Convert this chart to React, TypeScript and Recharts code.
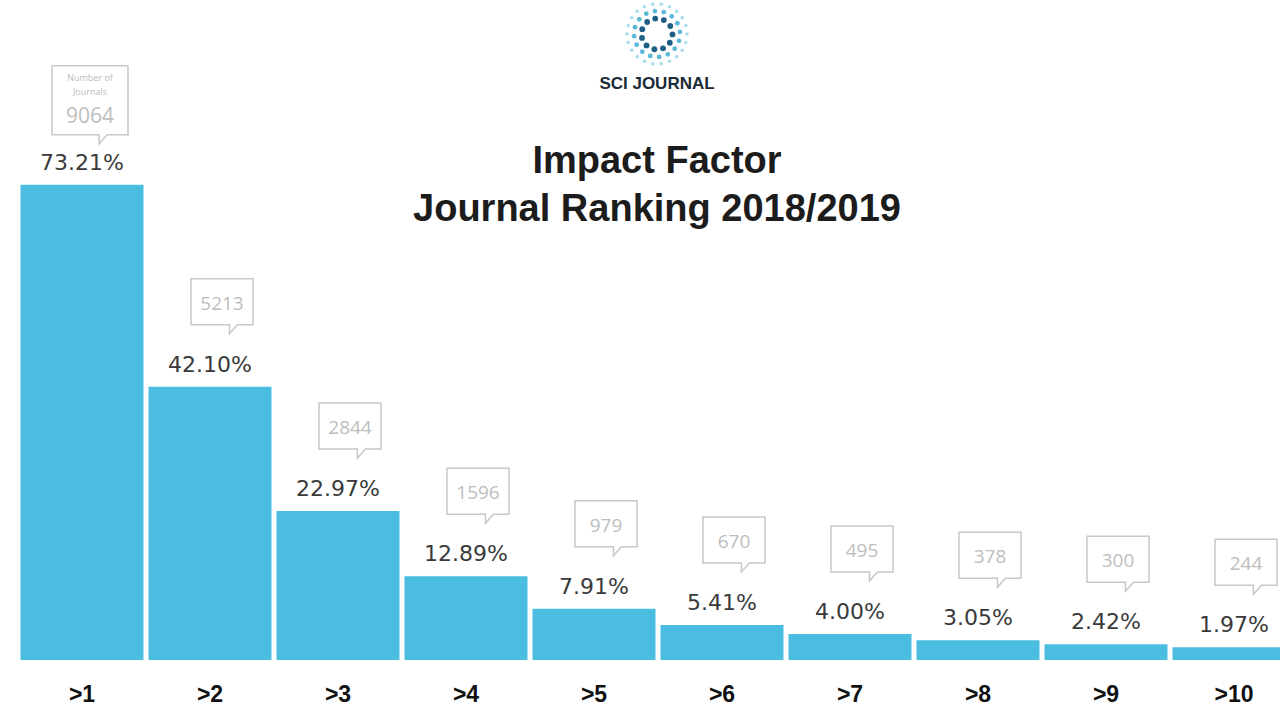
import { BarChart, Bar, XAxis, YAxis, LabelList } from 'recharts';

const categories = ['>1', '>2', '>3', '>4', '>5', '>6', '>7', '>8', '>9', '>10'];
const percentages = [73.21, 42.1, 22.97, 12.89, 7.91, 5.41, 4.0, 3.05, 2.42, 1.97];
const journalCounts = [9064, 5213, 2844, 1596, 979, 670, 495, 378, 300, 244];

const data = categories.map((name, i) => ({
  name,
  pct: percentages[i],
  count: journalCounts[i],
}));

const BAR_COLOR = '#4bbde1';
const BOX_STROKE = '#c8c8c8';
const BOX_TEXT = '#bdbdbd';

// percent label plus the grey "speech bubble" with the journal count
function BarLabel(props: any) {
  const { x, y, width, index } = props;
  const cx = Number(x) + Number(width) / 2;
  const top = Number(y);
  const pct = percentages[index];
  const count = journalCounts[index];
  const first = index === 0;

  const bw = first ? 76 : 62;
  const bh = first ? 69 : 46;
  const bx = cx + (first ? 8 : 12) - bw / 2;
  const by = top - (first ? 50 : 62) - bh;
  const tailX = bx + bw * 0.62;
  const bubble =
    `M${bx},${by} H${bx + bw} V${by + bh} H${tailX + 8} L${tailX},${by + bh + 9} ` +
    `L${tailX},${by + bh} H${bx} Z`;

  return (
    <g>
      <path d={bubble} fill="#fff" stroke={BOX_STROKE} strokeWidth={1.5} />
      {first ? (
        <>
          <text x={bx + bw / 2} y={by + 15} textAnchor="middle" fontSize={9} fill={BOX_TEXT} fontFamily="Open Sans">
            Number of
          </text>
          <text x={bx + bw / 2} y={by + 29} textAnchor="middle" fontSize={9} fill={BOX_TEXT} fontFamily="Open Sans">
            Journals
          </text>
          <text x={bx + bw / 2} y={by + 57} textAnchor="middle" fontSize={21} fill={BOX_TEXT} fontFamily="Open Sans">
            {count}
          </text>
        </>
      ) : (
        <text x={bx + bw / 2} y={by + 31} textAnchor="middle" fontSize={19} fill={BOX_TEXT} fontFamily="Open Sans">
          {count}
        </text>
      )}
      <text x={cx} y={top - 15} textAnchor="middle" fontSize={22} fill="#3a3a3a" fontFamily="DejaVu Sans">
        {pct.toFixed(2)}%
      </text>
    </g>
  );
}

function Logo() {
  const dots: JSX.Element[] = [];
  const rings = [
    { r: 30, n: 22, s: 1.8, c: '#a9def0' },
    { r: 23, n: 16, s: 2.4, c: '#5bb8d8' },
    { r: 15.5, n: 11, s: 2.9, c: '#1f5f86' },
  ];
  rings.forEach((ring, ri) => {
    for (let k = 0; k < ring.n; k++) {
      const a = (k / ring.n) * Math.PI * 2 + ri * 0.3;
      dots.push(
        <circle key={`${ri}-${k}`} cx={40 + ring.r * Math.cos(a)} cy={34 + ring.r * Math.sin(a)} r={ring.s} fill={ring.c} />
      );
    }
  });
  return (
    <svg width={80} height={70} style={{ position: 'absolute', left: 617, top: 0 }}>
      {dots}
    </svg>
  );
}

export default function App() {
  return (
    <div
      style={{
        position: 'fixed',
        left: 0,
        top: 0,
        width: 1280,
        height: 720,
        overflow: 'hidden',
        background: '#fff',
        fontFamily: 'Liberation Sans, Arial, sans-serif',
      }}
    >
      <Logo />
      <div
        style={{
          position: 'absolute',
          left: 557,
          top: 74,
          width: 200,
          textAlign: 'center',
          fontWeight: 'bold',
          fontSize: 17,
          color: '#1a2a36',
        }}
      >
        SCI JOURNAL
      </div>
      <div
        style={{
          position: 'absolute',
          left: 307,
          top: 136,
          width: 700,
          textAlign: 'center',
          fontWeight: 'bold',
          fontSize: 38,
          lineHeight: '48px',
          color: '#1c1c1c',
        }}
      >
        Impact Factor
        <br />
        Journal Ranking 2018/2019
      </div>
      <BarChart
        width={1300}
        height={720}
        data={data}
        margin={{ top: 11, right: 2, left: 18, bottom: 0 }}
        barCategoryGap={2.5}
      >
        <XAxis
          dataKey="name"
          axisLine={false}
          tickLine={false}
          height={60}
          tick={{ fontSize: 23, fontWeight: 'bold', fill: '#111', dy: 18 }}
        />
        <YAxis hide domain={[0, 100]} />
        <Bar dataKey="pct" fill={BAR_COLOR} isAnimationActive={false}>
          <LabelList dataKey="pct" content={<BarLabel />} />
        </Bar>
      </BarChart>
    </div>
  );
}
